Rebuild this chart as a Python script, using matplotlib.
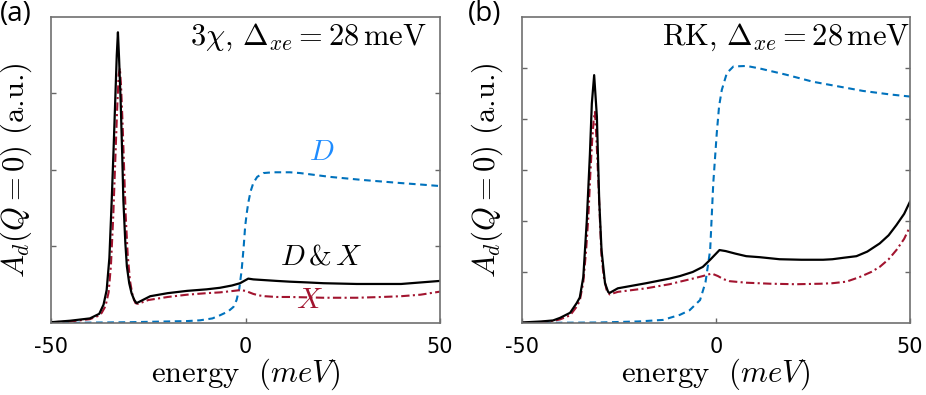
import matplotlib
matplotlib.use('Agg')
import matplotlib.pyplot as plt

plt.rcParams['mathtext.fontset'] = 'cm'
plt.rcParams['font.family'] = 'DejaVu Sans'

# panel (a): 3chi, Delta_xe = 28 meV
a_black_e = [-50, -45, -40, -37.6, -36.5, -35.7, -35, -34.4, -33.9, -33.5, -33.1, -32.8, -32.5,
             -32.1, -31.7, -31.4, -30.9, -30.5, -29.9, -29.3, -28.6, -28.0, -27.2, -24.5, -20,
             -15, -10, -6.6, -3.5, -1.4, 0.7, 2, 5, 8, 11.4, 16, 20, 28.6, 35, 40, 45, 50]
a_black_v = [0.01, 0.03, 0.06, 0.12, 0.24, 0.43, 0.85, 1.6, 2.3, 2.9, 3.5, 3.80, 3.45,
             2.9, 2.2, 1.6, 1.05, 0.74, 0.52, 0.39, 0.3, 0.26, 0.28, 0.35, 0.39,
             0.42, 0.44, 0.46, 0.49, 0.52, 0.58, 0.57, 0.56, 0.55, 0.54, 0.53, 0.52, 0.51,
             0.51, 0.51, 0.53, 0.55]

a_red_e = [-50, -45, -40, -38, -37, -36, -35.2, -34.6, -34.0, -33.5, -33.0, -32.6, -32.3, -32.0,
           -31.6, -31.2, -30.8, -30.3, -29.7, -29.0, -28.3, -27.6, -25, -20, -15, -10, -6.6,
           -3, -1.4, 0, 1, 2, 3.5, 5, 8, 11.4, 20, 28.6, 35, 40, 45, 50]
a_red_v = [0.01, 0.02, 0.05, 0.09, 0.13, 0.22, 0.4, 0.75, 1.4, 2.1, 2.8, 3.25, 3.33, 3.1,
           2.6, 2.0, 1.4, 0.9, 0.55, 0.35, 0.26, 0.25, 0.3, 0.34, 0.37, 0.39, 0.40,
           0.42, 0.43, 0.42, 0.40, 0.38, 0.36, 0.35, 0.34, 0.34, 0.33, 0.33, 0.34, 0.35,
           0.37, 0.41]

a_blue_e = [-50, -30, -20, -15, -11.7, -8.5, -6.6, -4.5, -3.1, -2.3, -1.6, -1.0, -0.5, -0.1, 0.3,
            0.7, 1.3, 2.0, 3.0, 4.6, 7.1, 11.4, 14, 21.7, 30, 39.7, 45, 50]
a_blue_v = [0.0, 0.01, 0.02, 0.025, 0.035, 0.06, 0.10, 0.15, 0.21, 0.3, 0.45, 0.69, 0.98, 1.26, 1.43,
            1.57, 1.72, 1.83, 1.91, 1.96, 1.97, 1.97, 1.96, 1.91, 1.87, 1.83, 1.81, 1.79]

# panel (b): RK, Delta_xe = 28 meV
b_black_e = [-50, -45, -42, -40.2, -37.6, -35.9, -35.1, -34.2, -33.3, -32.5, -32.0, -31.4, -30.7,
             -30.1, -29.5, -28.6, -27.8, -27.4, -25.3, -18, -12, -9.3, -6, -3.4, -1.5, 0.9,
             2.5, 5, 7.8, 11.3, 16.4, 22, 27.6, 30, 33, 36.2, 39, 42.2, 44.5, 46.5, 48.5, 50]
b_black_v = [0.01, 0.03, 0.05, 0.1, 0.2, 0.39, 0.5, 0.9, 2.0, 3.3, 4.3, 4.86, 4.05,
             2.41, 1.43, 0.78, 0.61, 0.59, 0.68, 0.78, 0.87, 0.92, 1.0, 1.10, 1.24, 1.43,
             1.41, 1.36, 1.31, 1.29, 1.25, 1.24, 1.24, 1.25, 1.28, 1.31, 1.40, 1.56, 1.72,
             1.92, 2.14, 2.38]

b_red_e = [-50, -45, -42, -40.2, -37.6, -35.9, -35.1, -34.2, -33.5, -32.9, -32.4, -31.9, -31.5,
           -31.2, -30.8, -30.3, -29.9, -29.5, -28.9, -28.2, -27.4, -25.3, -18, -12, -9.3, -6,
           -3.4, -1.1, 0.5, 1.9, 3.5, 7.8, 14, 20.7, 27, 30, 33.6, 37, 40, 42.2, 44.5, 46.5,
           48.5, 50]
b_red_v = [0.0, 0.02, 0.04, 0.07, 0.15, 0.32, 0.44, 0.8, 1.4, 2.08, 2.9, 3.6, 4.0,
           4.14, 3.6, 2.75, 2.0, 1.30, 0.9, 0.65, 0.56, 0.61, 0.68, 0.76, 0.81, 0.87,
           0.92, 0.97, 0.92, 0.86, 0.82, 0.79, 0.77, 0.76, 0.77, 0.78, 0.81, 0.9, 1.0,
           1.10, 1.25, 1.43, 1.65, 1.89]

b_blue_e = [-50, -30, -20, -13.7, -9.3, -6.8, -4.1, -2.7, -1.5, -0.7, 0.2, 0.8, 1.5, 2.8, 4.5,
            7.9, 11.3, 18, 25.0, 37.9, 45, 50]
b_blue_v = [0.0, 0.01, 0.03, 0.06, 0.16, 0.25, 0.45, 0.8, 1.43, 2.74, 3.72, 4.25, 4.57, 4.9, 5.03,
            5.04, 4.99, 4.87, 4.73, 4.55, 4.48, 4.44]

xticks = [-50, 0, 50]
xticklabels = ['-50', '0', '50']

BLUE = '#0072BD'
RED = '#A2142F'

fig = plt.figure(figsize=(9.26, 3.95), dpi=100)
ax_a = fig.add_axes([0.0551, 0.1823, 0.4201, 0.7747])
ax_b = fig.add_axes([0.5637, 0.1823, 0.4190, 0.7747])

panels = [
    (ax_a, a_black_e, a_black_v, a_red_e, a_red_v, a_blue_e, a_blue_v, 4, [1, 2, 3],
     r'$3\chi,\,\Delta_{xe}=28\,\mathrm{meV}$', '(a)'),
    (ax_b, b_black_e, b_black_v, b_red_e, b_red_v, b_blue_e, b_blue_v, 6, [1, 2, 3, 4, 5],
     r'$\mathrm{RK},\,\Delta_{xe}=28\,\mathrm{meV}$', '(b)'),
]

for ax, ke, kv, re_, rv, be, bv, ymax, yt, title, lab in panels:
    ax.plot(be, bv, color=BLUE, lw=1.5, dashes=(3.2, 2.2))
    ax.plot(re_, rv, color=RED, lw=1.5, dashes=(4, 1.6, 1, 1.6))
    ax.plot(ke, kv, color='black', lw=1.6)
    ax.set_xlim(-50, 50)
    ax.set_ylim(0, ymax)
    ax.set_xticks(xticks)
    ax.set_xticklabels(xticklabels)
    ax.set_yticks(yt)
    ax.set_yticklabels([])
    ax.tick_params(direction='in', length=3.5, width=1, colors='#666666',
                   top=False, right=True, labelsize=15, pad=10)
    ax.tick_params(axis='x', labelcolor='black')
    for s in ax.spines.values():
        s.set_color('#707070')
        s.set_linewidth(1.2)
    ax.set_xlabel(r'energy  $(meV)$', fontsize=22, labelpad=0, family='cmr10')
    ax.set_ylabel(r'$A_d(Q=0)$ (a.u.)', fontsize=22, labelpad=2, family='cmr10')
    ax.text(0.965 if lab == '(a)' else 1.0, 0.985, title, transform=ax.transAxes,
            ha='right', va='top', fontsize=22)

fig.text(0.0, 1.0, '(a)', ha='left', va='top', fontsize=20, family='Open Sans')
fig.text(0.505, 1.0, '(b)', ha='left', va='top', fontsize=20, family='Open Sans')

ax_a.text(19.5, 2.05, r'$D$', color='#1E8CFF', fontsize=21, ha='center', va='bottom')
ax_a.text(19.5, 0.68, r'$D\,$&$\,X$', color='black', fontsize=21, ha='center', va='bottom',
          family='cmr10')
ax_a.text(16.5, 0.30, r'$X$', color=RED, fontsize=21, ha='center', va='center')

fig.savefig('out.png', dpi=100)
